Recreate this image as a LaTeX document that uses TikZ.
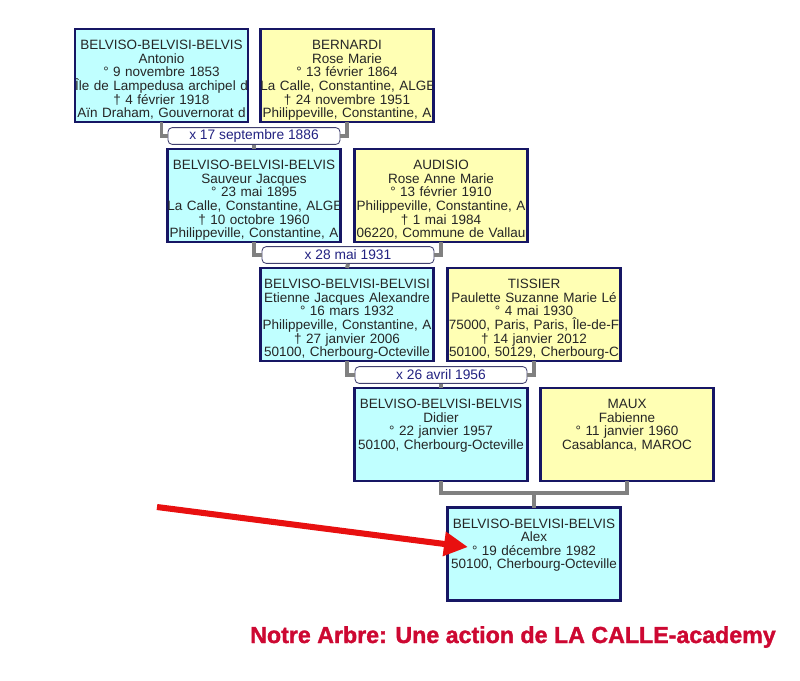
\documentclass[tikz,border=0pt]{standalone}
\usepackage{fontspec}
\setmainfont{Liberation Sans}
\newfontfamily\heavyfont[FakeBold=1.5]{Liberation Sans Bold}
\usepackage{xcolor}
\usepackage{tikz}
\usetikzlibrary{arrows.meta, positioning, calc}
\definecolor{malefill}{RGB}{192, 255, 255}
\definecolor{femalefill}{RGB}{255, 255, 180}
\definecolor{boxline}{RGB}{22, 22, 100}
\definecolor{linkgray}{RGB}{128, 128, 128}
\definecolor{datetext}{RGB}{35, 35, 130}
\definecolor{pointer}{RGB}{232, 16, 16}
\definecolor{motto}{RGB}{205, 8, 50}
\tikzstyle{person} = [rectangle, draw=boxline, line width=1.5pt, outer sep=0pt, inner sep=0pt, minimum width=4.325cm, minimum height=2.325cm]
\tikzstyle{male} = [person, fill=malefill]
\tikzstyle{female} = [person, fill=femalefill]
\tikzstyle{info} = [text width=4.325cm, align=center, inner sep=0pt, text height=14.4pt, font=\fontsize{9.6}{9.7}\selectfont, text=black!85]
\tikzstyle{wedding} = [rectangle, rounded corners=3pt, draw=boxline!60!gray, line width=0.6pt, fill=white, minimum width=4.3cm, minimum height=0.42cm, inner sep=0pt, text=datetext, font=\fontsize{9.8}{10}\selectfont]
\tikzstyle{link} = [line width=2.8pt, draw=linkgray]
\tikzstyle{arrow} = [line width=4.3pt, draw=pointer, -{Triangle[length=0.6cm, width=0.58cm]}]
% box with its text cut at the border
\newcommand{\person}[4]{%
  \node[#2] (#1) at (#3) {};
  \begin{scope}
    \clip ([shift={(0.8pt,0.8pt)}]#1.south west) rectangle ([shift={(-0.8pt,-0.8pt)}]#1.north east);
    \node[info, anchor=north] (#1-info) at (#1.north) {#4};
  \end{scope}
}

\begin{document}
\begin{tikzpicture}[x=0.025cm, y=-0.025cm]
    \useasboundingbox (0,0) rectangle (800,680);

    % Marriage dates
    \node[wedding] (m1) at (254, 136) {x 17 septembre 1886};
    \node[wedding] (m2) at (348, 255) {x 28 mai 1931};
    \node[wedding] (m3) at (441, 375) {x 26 avril 1956};

    % Generation 1
    \person{antonio}{male}{161.5, 75.5}{BELVISO-BELVISI-BELVIS\\Antonio\\° 9 novembre 1853\\\mbox{Île de Lampedusa archipel d}\\† 4 février 1918\\\mbox{Aïn Draham, Gouvernorat d}}
    \person{rosemarie}{female}{347, 75.5}{BERNARDI\\Rose Marie\\° 13 février 1864\\\mbox{La Calle, Constantine, ALGE}\\† 24 novembre 1951\\\mbox{Philippeville, Constantine, A}}

    % Generation 2
    \person{sauveur}{male}{254, 195.5}{BELVISO-BELVISI-BELVIS\\Sauveur Jacques\\° 23 mai 1895\\\mbox{La Calle, Constantine, ALGE}\\† 10 octobre 1960\\\mbox{Philippeville, Constantine, A}}
    \person{audisio}{female}{441, 195.5}{AUDISIO\\Rose Anne Marie\\° 13 février 1910\\\mbox{Philippeville, Constantine, A}\\† 1 mai 1984\\\mbox{06220, Commune de Vallau}}

    % Generation 3
    \person{etienne}{male}{347, 314.5}{\mbox{BELVISO-BELVISI-BELVISI}\\\mbox{Etienne Jacques Alexandre}\\° 16 mars 1932\\\mbox{Philippeville, Constantine, A}\\† 27 janvier 2006\\\mbox{50100, Cherbourg-Octeville}}
    \person{tissier}{female}{534, 314.5}{TISSIER\\\mbox{Paulette Suzanne Marie Lé}\\° 4 mai 1930\\\mbox{75000, Paris, Paris, Île-de-F}\\† 14 janvier 2012\\\mbox{50100, 50129, Cherbourg-C}}

    % Generation 4
    \person{didier}{male}{441, 434.5}{BELVISO-BELVISI-BELVIS\\Didier\\° 22 janvier 1957\\\mbox{50100, Cherbourg-Octeville}}
    \person{maux}{female}{627, 434.5}{MAUX\\Fabienne\\° 11 janvier 1960\\Casablanca, MAROC}

    % Generation 5
    \person{alex}{male}{534, 554}{BELVISO-BELVISI-BELVIS\\Alex\\° 19 décembre 1982\\\mbox{50100, Cherbourg-Octeville}}

    % Links
    \draw[link] (antonio.south) |- (m1.west);
    \draw[link] (rosemarie.south) |- (m1.east);
    \draw[link] (m1.south) -- (sauveur.north);
    \draw[link] (sauveur.south) |- (m2.west);
    \draw[link] (audisio.south) |- (m2.east);
    \draw[link] (m2.south) -- (etienne.north);
    \draw[link] (etienne.south) |- (m3.west);
    \draw[link] (tissier.south) |- (m3.east);
    \draw[link] (m3.south) -- (didier.north);
    \coordinate (j4) at (534, 493);
    \draw[link] (didier.south) |- (j4) -| (maux.south);
    \draw[link] (j4) -- (alex.north);

    % Pointer
    \coordinate (tail) at (157, 507);
    \coordinate (tip) at (468, 547);
    \draw[arrow] (tail) -- (tip);

    % Footer
    \node[font=\heavyfont\fontsize{16.5}{18}\selectfont, text=motto] (footer) at (513, 637) {Notre Arbre: Une action de LA CALLE-academy};
\end{tikzpicture}
\end{document}
